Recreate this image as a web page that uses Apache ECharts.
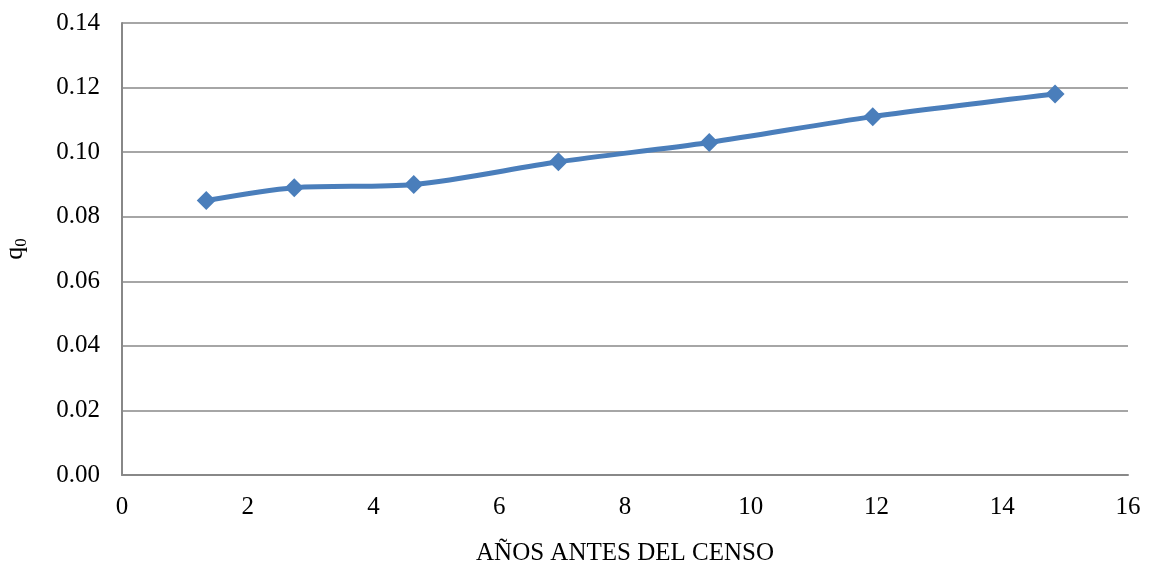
<!DOCTYPE html>
<html><head><meta charset="utf-8">
<script src="https://cdn.jsdelivr.net/npm/echarts@6/dist/echarts.min.js"></script>
<style>html,body{margin:0;padding:0;background:#fff}#c{width:1150px;height:568px}</style>
</head><body><div id="c"></div>
<script>
const xValues = [1.34, 2.74, 4.64, 6.94, 9.34, 11.94, 14.84];
const qValues = [0.085, 0.089, 0.090, 0.097, 0.103, 0.111, 0.118];
const xTitle = 'AÑOS ANTES DEL CENSO';
const font = '"Liberation Serif","Times New Roman",serif';
const chart = echarts.init(document.getElementById('c'));
chart.setOption({
  animation: false,
  grid: {left: 122, right: 22, top: 23, bottom: 93, containLabel: false, outerBoundsMode: 'none'},
  xAxis: {
    type: 'value', min: 0, max: 16, interval: 2,
    name: xTitle, nameLocation: 'middle', nameGap: 66,
    nameTextStyle: {fontFamily: font, fontSize: 25, color: '#000'},
    axisLine: {show: true, lineStyle: {color: '#888', width: 2}},
    axisTick: {show: false},
    splitLine: {show: false},
    axisLabel: {fontFamily: font, fontSize: 25, color: '#000', margin: 20}
  },
  yAxis: {
    type: 'value', min: 0, max: 0.14, interval: 0.02,
    name: '{a|q}{b|0}', nameLocation: 'middle', nameGap: 92,
    nameTextStyle: {rich: {
      a: {fontFamily: font, fontSize: 26, color: '#000'},
      b: {fontFamily: font, fontSize: 17, color: '#000', verticalAlign: 'bottom', padding: [12, 0, 0, 0]}
    }},
    axisLine: {show: true, lineStyle: {color: '#888', width: 2}},
    axisTick: {show: false},
    splitLine: {lineStyle: {color: '#888', width: 1.5}},
    axisLabel: {fontFamily: font, fontSize: 25, color: '#000', margin: 22,
      formatter: v => v.toFixed(2)}
  },
  series: [{
    type: 'line',
    data: xValues.map((x, i) => [x, qValues[i]]),
    smooth: 0.3,
    symbol: 'diamond', symbolSize: 19,
    lineStyle: {color: '#4a7ebb', width: 5},
    itemStyle: {color: '#4a7ebb'}
  }]
});
</script></body></html>
